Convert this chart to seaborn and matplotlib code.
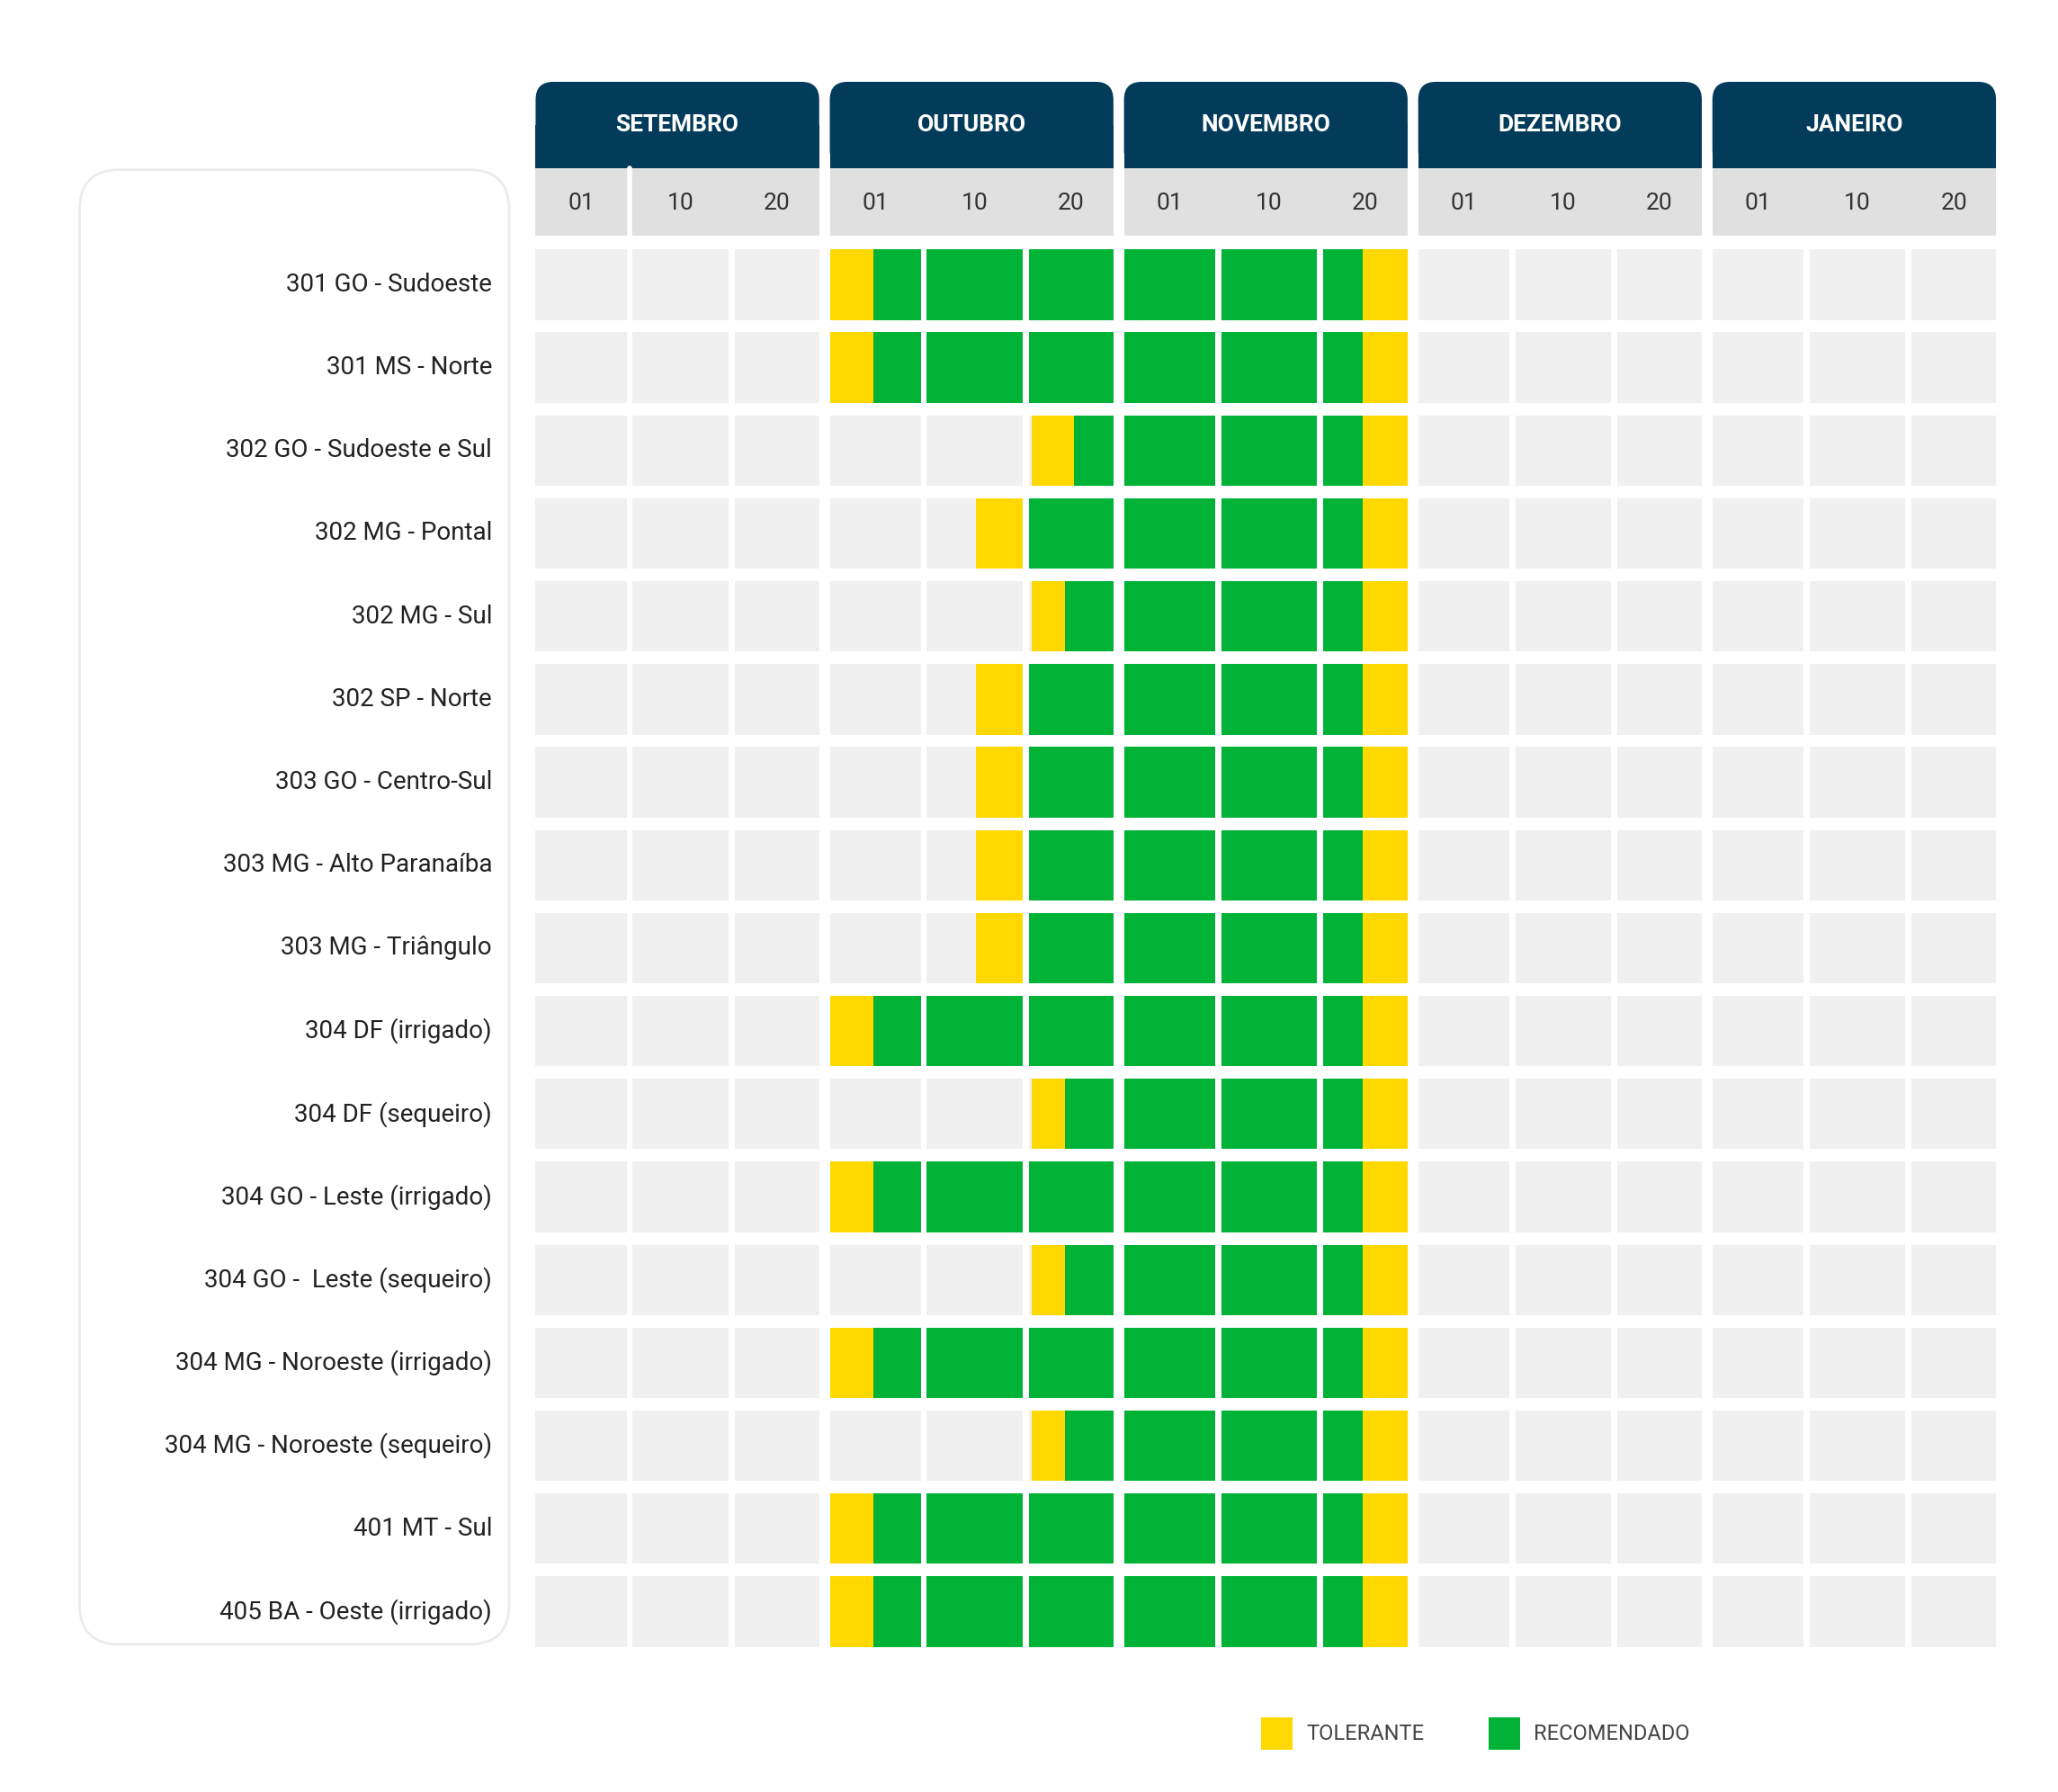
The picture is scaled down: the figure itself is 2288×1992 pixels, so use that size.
import matplotlib
matplotlib.use("Agg")
import matplotlib.pyplot as plt
from matplotlib.patches import Rectangle, FancyBboxPatch
import seaborn as sns

months = ["SETEMBRO", "OUTUBRO", "NOVEMBRO", "DEZEMBRO", "JANEIRO"]
decades = ["01", "10", "20"]
regions = [
    "301 GO - Sudoeste", "301 MS - Norte", "302 GO - Sudoeste e Sul", "302 MG - Pontal",
    "302 MG - Sul", "302 SP - Norte", "303 GO - Centro-Sul", "303 MG - Alto Paranaíba",
    "303 MG - Triângulo", "304 DF (irrigado)", "304 DF (sequeiro)", "304 GO - Leste (irrigado)",
    "304 GO -  Leste (sequeiro)", "304 MG - Noroeste (irrigado)", "304 MG - Noroeste (sequeiro)",
    "401 MT - Sul", "405 BA - Oeste (irrigado)",
]
# windows in month units from 1 Sep: (tolerant start, recommended start, recommended end, tolerant end)
tol_start = [1.0, 1.0, 1.686, 1.498, 1.686, 1.498, 1.498, 1.498, 1.498, 1.0, 1.686, 1.0, 1.686, 1.0, 1.686, 1.0, 1.0]
rec_start = [1.148, 1.148, 1.83, 1.67, 1.80, 1.67, 1.67, 1.67, 1.67, 1.148, 1.80, 1.148, 1.80, 1.148, 1.80, 1.148, 1.148]
rec_end = [2.812] * 17
tol_end = [2.964] * 17

cell_edges = [(0.0, 0.31), (0.33, 0.655), (0.677, 0.964)]
GRAY, BAND, NAVY = "#f0f0f0", "#e0e0e0", "#033c5a"
YELLOW, GREEN = "#ffd800", "#00b336"
ROW_H = 0.85

sns.set_theme(style="white")
plt.rcParams["font.family"] = ["Roboto", "DejaVu Sans"]

fig = plt.figure(figsize=(22.88, 19.92), dpi=100)
W, H = 1560, 1358
ax = fig.add_axes([406 / W, 1 - 1248 / H, 1107 / W, (1248 - 62) / H])
ax.set_xlim(0, 4.964)
ax.set_ylim(16.85, -2.02)
ax.axis("off")

# left label panel
panel = FancyBboxPatch((-1.55, -0.96), 1.46, 17.78, boxstyle="round,pad=0,rounding_size=0.135",
                       mutation_aspect=3.57, fc="white", ec="#ececec", lw=2, clip_on=False)
ax.add_patch(panel)

def seg(a, b, lo, hi):
    return max(a, lo), min(b, hi)

for m, name in enumerate(months):
    hdr = FancyBboxPatch((m, -2.02), 0.964, 1.04, boxstyle="round,pad=0,rounding_size=0.06",
                         mutation_aspect=3.57, fc=NAVY, ec="none", clip_on=False)
    ax.add_patch(hdr)
    ax.add_patch(Rectangle((m, -1.5), 0.964, 0.522, fc=NAVY, ec="none", clip_on=False))
    ax.text(m + 0.482, -1.5, name, color="white", fontsize=19, fontweight="bold",
            ha="center", va="center")
    ax.add_patch(Rectangle((m, -0.978), 0.964, 0.818, fc=BAND, ec="none"))
    for d, (c0, c1) in enumerate(cell_edges):
        ax.text(m + (c0 + c1) / 2, -0.56, decades[d], color="#333333", fontsize=19,
                ha="center", va="center")
        if m == 0 and d == 0:
            ax.plot([m + c1 + 0.01] * 2, [-0.978, -0.16], color="white", lw=4)

for i, reg in enumerate(regions):
    ax.text(-0.148, i + ROW_H / 2, reg, ha="right", va="center", fontsize=20, color="#222222")
    for m in range(len(months)):
        for c0, c1 in cell_edges:
            lo, hi = m + c0, m + c1
            ax.add_patch(Rectangle((lo, i), hi - lo, ROW_H, fc=GRAY, ec="none"))
            for a, b, col in [(tol_start[i], rec_start[i], YELLOW),
                              (rec_start[i], rec_end[i], GREEN),
                              (rec_end[i], tol_end[i], YELLOW)]:
                s, e = seg(a, b, lo, hi)
                if e > s:
                    ax.add_patch(Rectangle((s, i), e - s, ROW_H, fc=col, ec="none"))

# legend
for x0, col, lab in [(2.466, YELLOW, "TOLERANTE"), (3.238, GREEN, "RECOMENDADO")]:
    ax.add_patch(Rectangle((x0, 17.7), 0.108, 0.385, fc=col, ec="none", clip_on=False))
    ax.text(x0 + 0.153, 17.9, lab, fontsize=17, color="#444444", va="center", ha="left")

fig.savefig("out.png", dpi=100, facecolor="white")
